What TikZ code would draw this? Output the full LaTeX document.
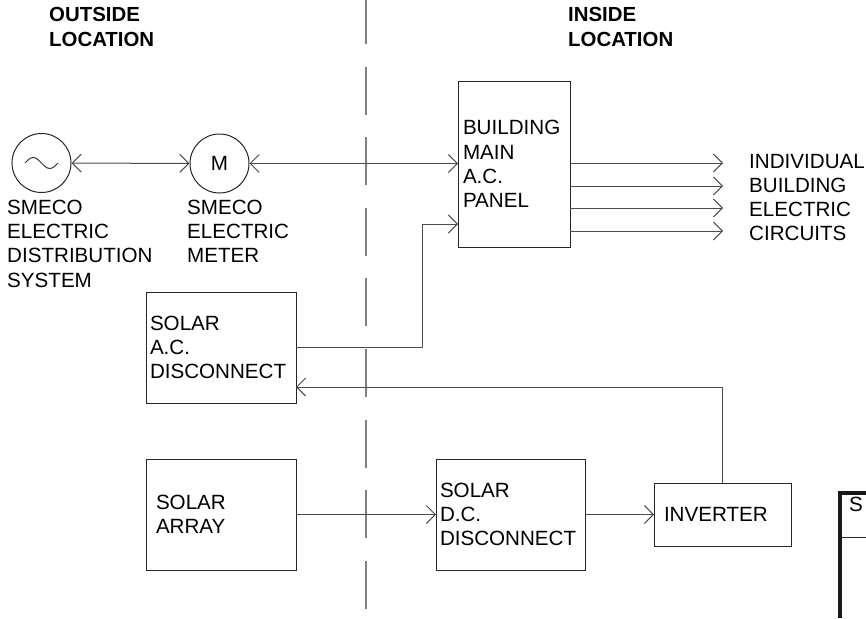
\documentclass[tikz,border=0pt]{standalone}
\usepackage{fontspec}
\setmainfont{Liberation Sans}
\usetikzlibrary{arrows.meta,calc}
\begin{document}
\begin{tikzpicture}[x=1pt,y=-1pt,
  every node/.style={font=\fontsize{20.6}{24.2}\selectfont},
  box/.style={draw=black!85, line width=1pt, align=left, anchor=north west, inner ysep=0pt, outer sep=0pt},
  lbl/.style={align=left, anchor=north west, inner sep=0pt},
  hdr/.style={align=left, anchor=north west, inner sep=0pt, font=\fontsize{20.4}{25}\selectfont\bfseries},
  conn/.style={draw=black!70, line width=1pt},
  arr/.style={conn, -{Straight Barb[length=9pt,width=18pt]}},
  darr/.style={conn, {Straight Barb[length=9pt,width=18pt]}-{Straight Barb[length=9pt,width=18pt]}},
]
\useasboundingbox (0,0) rectangle (866,618);
% headers
\node[hdr] (hout) at (49,7) {OUTSIDE\\LOCATION};
\node[hdr] (hin) at (568,7) {INSIDE\\LOCATION};
% divider
\draw[draw=black!50, line width=1.5pt, dash pattern=on 48pt off 22.6pt] (366,-4) -- (366,610);
% source and meter
\node[draw=black!85, line width=1pt, circle, minimum size=59pt, inner sep=0pt] (src) at (41.5,163) {};
\draw[line width=1pt, black!80] ($(src.center)+(-16.5,0)$) sin ++(8.25,-5.5) cos ++(8.25,5.5) sin ++(8.25,5.5) cos ++(8.25,-5.5);
\node[draw=black!85, line width=1pt, circle, minimum size=59pt, inner sep=0pt] (meter) at (219.5,163.5) {M};
\node[lbl] (srclbl) at (7,200) {SMECO\\ELECTRIC\\DISTRIBUTION\\SYSTEM};
\node[lbl] (mlbl) at (187,200) {SMECO\\ELECTRIC\\METER};
% boxes
\node[box, minimum width=112pt, minimum height=166pt, text width=102pt, inner xsep=5pt] (panel) at (458,81) {BUILDING\\MAIN\\A.C.\\PANEL};
\node[box, minimum width=150pt, minimum height=111pt, text width=142pt, inner xsep=4pt] (acd) at (146,292) {SOLAR\\A.C.\\DISCONNECT};
\node[box, minimum width=150pt, minimum height=111pt, text width=130pt, inner xsep=10pt] (array) at (146,459) {SOLAR\\ARRAY};
\node[box, minimum width=149pt, minimum height=111pt, text width=141pt, inner xsep=4pt] (dcd) at (436,459) {SOLAR\\D.C.\\DISCONNECT};
\node[box, minimum width=137pt, minimum height=63pt, text width=117pt, inner xsep=10pt] (inv) at (654,483) {INVERTER};
\node[lbl] (outlbl) at (749,154) {INDIVIDUAL\\BUILDING\\ELECTRIC\\CIRCUITS};
% connectors
\draw[darr] (src) -- (meter);
\draw[darr] (meter.east) -- (meter.east -| panel.west);
\draw[arr] (acd.east) -- ++(126,0) |- ([yshift=-60pt]panel.west);
\draw[arr] (inv.north) |- ([yshift=-39.5pt]acd.east);
\draw[arr] (array.east) -- (dcd.west);
\draw[arr] (dcd.east) -- (inv.west);
\foreach \yy/\n in {163/1,186/2,208/3,231/4}{
  \coordinate (o\n) at (723,\yy);
  \draw[arr] (panel.east |- o\n) -- (o\n);
}
% partial box at bottom right
\draw[line width=4pt, black!90] (840,618) -- (840,493) -- (866,493);
\draw[line width=1pt, black!85] (842,537) -- (866,537);
\node[lbl] (slbl) at (849,497) {S};
\end{tikzpicture}
\end{document}
